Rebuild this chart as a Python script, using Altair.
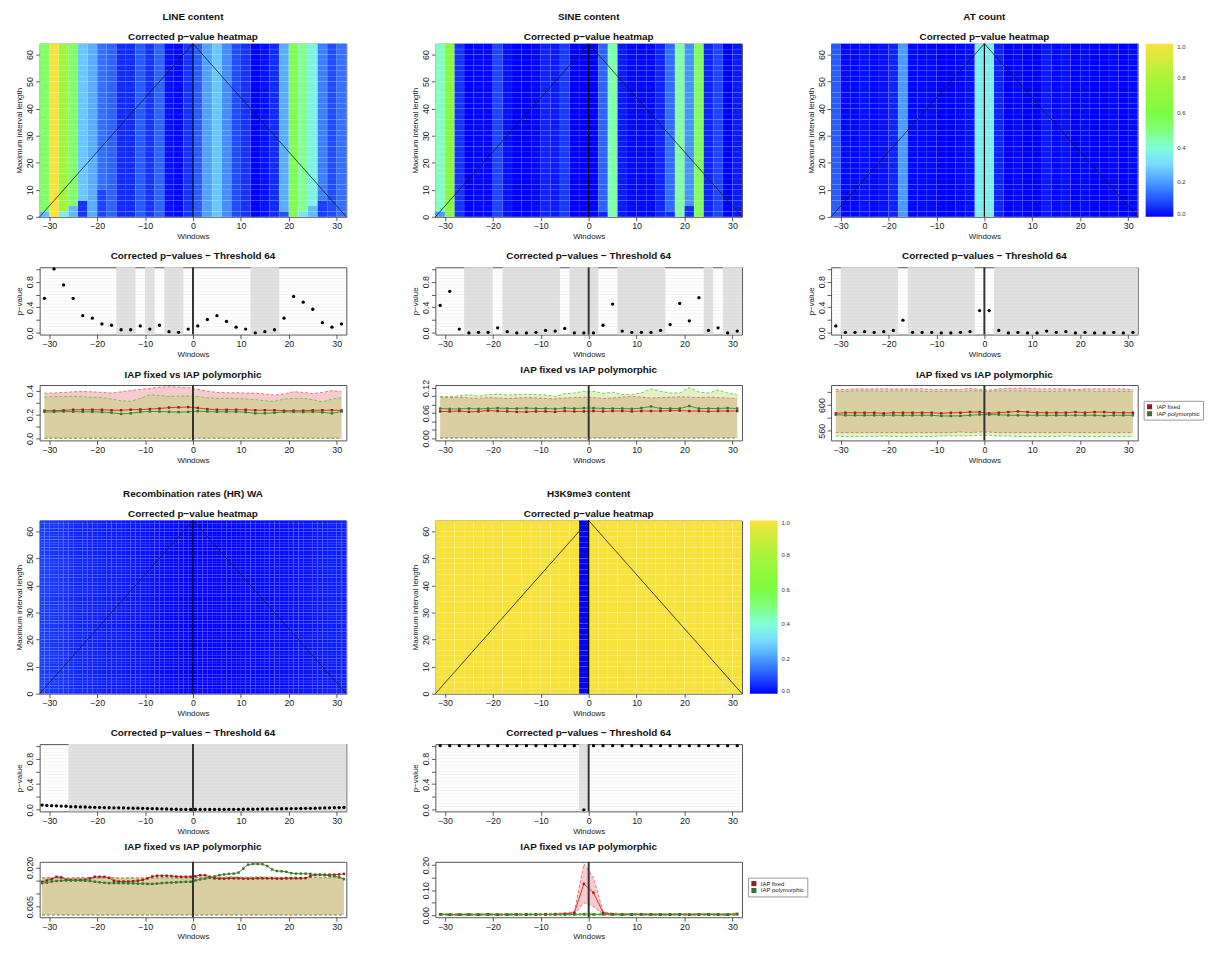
import altair as alt
import pandas as pd

alt.data_transformers.disable_max_rows()
FONT = "Liberation Sans"

# ---------------- windows ----------------
WIN = list(range(-31, 32, 2))                  # 32 windows, width 2
WIN_REC = [w / 2 for w in range(-63, 64, 2)]   # 64 windows, width 1
TRI_X = [-32, 0, 32]
TRI_Y = [0, 64, 0]
SERIES = ["IAP fixed", "IAP polymorphic"]

# ---------------- LINE content ----------------
LINE_P = [0.54, 1.0, 0.75, 0.54, 0.27, 0.23, 0.14, 0.12, 0.05, 0.05, 0.11, 0.06, 0.12, 0.02, 0.01, 0.06,
          0.11, 0.21, 0.27, 0.18, 0.09, 0.06, 0.0, 0.02, 0.05, 0.23, 0.57, 0.48, 0.37, 0.16, 0.09, 0.14]
LINE_SH0 = [-16, -10, -6, 12]
LINE_SH1 = [-12, -8, -2, 18]
LINE_OV_W = [-31, -27, -25, -23, -19, 19, 23, 25, 27]
LINE_OV_TOP = [2, 2, 4, 6, 10, 2, 2, 4, 6]
LINE_OV_VAL = [0.25, 0.35, 0.25, 0.06, 0.08, 0.1, 0.32, 0.25, 0.07]
LINE_FM = [0.232, 0.232, 0.235, 0.240, 0.240, 0.240, 0.240, 0.236, 0.236, 0.240, 0.242, 0.245, 0.250, 0.258, 0.260, 0.262,
           0.255, 0.245, 0.240, 0.240, 0.240, 0.240, 0.236, 0.236, 0.236, 0.232, 0.232, 0.232, 0.235, 0.236, 0.236, 0.234]
LINE_PM = [0.222, 0.222, 0.225, 0.224, 0.222, 0.222, 0.220, 0.215, 0.205, 0.210, 0.222, 0.225, 0.225, 0.222, 0.220, 0.222,
           0.228, 0.225, 0.222, 0.222, 0.222, 0.220, 0.210, 0.210, 0.215, 0.222, 0.222, 0.220, 0.222, 0.218, 0.210, 0.225]
LINE_FH = [0.378, 0.380, 0.385, 0.390, 0.392, 0.390, 0.385, 0.380, 0.390, 0.400, 0.410, 0.420, 0.428, 0.432, 0.430, 0.425,
           0.410, 0.395, 0.385, 0.382, 0.382, 0.380, 0.378, 0.372, 0.362, 0.372, 0.390, 0.385, 0.375, 0.385, 0.400, 0.390]
LINE_PH = [0.345, 0.350, 0.352, 0.352, 0.348, 0.345, 0.340, 0.330, 0.315, 0.310, 0.335, 0.365, 0.360, 0.350, 0.355, 0.355,
           0.350, 0.340, 0.335, 0.335, 0.335, 0.330, 0.325, 0.315, 0.310, 0.330, 0.335, 0.335, 0.325, 0.305, 0.330, 0.340]
LINE_FL = [0.002, 0.002, 0.002, 0.001, 0.002, 0.002, 0.002, 0.002, 0.001, 0.001, 0.002, 0.002, 0.002, 0.002, 0.002, 0.002,
           0.002, 0.002, 0.002, 0.002, 0.001, 0.001, 0.002, 0.002, 0.002, 0.002, 0.002, 0.002, 0.002, 0.001, 0.002, 0.002]
LINE_PL = [0.000, 0.001, 0.000, 0.000, 0.001, 0.000, 0.000, 0.000, 0.000, 0.001, 0.000, 0.000, 0.000, 0.000, 0.001, 0.000,
           0.000, 0.000, 0.001, 0.000, 0.000, 0.000, 0.000, 0.001, 0.000, 0.000, 0.000, 0.000, 0.001, 0.000, 0.000, 0.000]

# ---------------- SINE content ----------------
SINE_P = [0.43, 0.65, 0.06, 0.0, 0.01, 0.01, 0.08, 0.02, 0.0, 0.0, 0.01, 0.04, 0.03, 0.07, 0.0, 0.0,
          0.0, 0.12, 0.45, 0.03, 0.01, 0.01, 0.01, 0.04, 0.13, 0.46, 0.19, 0.55, 0.04, 0.08, 0.0, 0.03]
SINE_SH0 = [-26, -18, -4, 6, 24, 28]
SINE_SH1 = [-20, -6, 2, 16, 26, 32]
SINE_OV_W = [-31, 3, 17, 21]
SINE_OV_TOP = [2, 2, 2, 4]
SINE_OV_VAL = [0.2, 0.04, 0.05, 0.05]
SINE_FM = [0.064, 0.064, 0.065, 0.063, 0.064, 0.066, 0.065, 0.064, 0.063, 0.063, 0.064, 0.064, 0.063, 0.065, 0.064, 0.064,
           0.065, 0.064, 0.065, 0.065, 0.064, 0.065, 0.065, 0.065, 0.066, 0.066, 0.065, 0.065, 0.064, 0.065, 0.065, 0.065]
SINE_PM = [0.071, 0.070, 0.070, 0.071, 0.070, 0.071, 0.072, 0.071, 0.071, 0.072, 0.071, 0.071, 0.070, 0.072, 0.071, 0.072,
           0.072, 0.071, 0.071, 0.071, 0.070, 0.072, 0.076, 0.071, 0.071, 0.071, 0.077, 0.071, 0.071, 0.071, 0.072, 0.071]
SINE_FH = [0.098, 0.097, 0.098, 0.096, 0.095, 0.097, 0.096, 0.095, 0.096, 0.097, 0.096, 0.095, 0.094, 0.096, 0.097, 0.098,
           0.097, 0.095, 0.096, 0.098, 0.100, 0.098, 0.096, 0.097, 0.098, 0.099, 0.098, 0.097, 0.098, 0.097, 0.096, 0.095]
SINE_PH = [0.100, 0.099, 0.101, 0.104, 0.100, 0.104, 0.105, 0.103, 0.104, 0.105, 0.104, 0.103, 0.100, 0.106, 0.108, 0.112,
           0.112, 0.107, 0.110, 0.104, 0.105, 0.108, 0.118, 0.112, 0.108, 0.108, 0.121, 0.110, 0.108, 0.115, 0.108, 0.103]
SINE_FL = [0.001, 0.001, 0.001, 0.001, 0.001, 0.001, 0.001, 0.001, 0.001, 0.001, 0.001, 0.001, 0.001, 0.001, 0.001, 0.001,
           0.001, 0.001, 0.001, 0.001, 0.001, 0.001, 0.001, 0.001, 0.001, 0.001, 0.001, 0.001, 0.001, 0.001, 0.001, 0.001]
SINE_PL = [0.0005, 0.0005, 0.0005, 0.0005, 0.0005, 0.0005, 0.0005, 0.0005, 0.0005, 0.0005, 0.0005, 0.0005, 0.0005, 0.0005, 0.0005, 0.0005,
           0.0005, 0.0005, 0.0005, 0.0005, 0.0005, 0.0005, 0.0005, 0.0005, 0.0005, 0.0005, 0.0005, 0.0005, 0.0005, 0.0005, 0.0005, 0.0005]

# ---------------- AT count ----------------
AT_P = [0.11, 0.01, 0.01, 0.02, 0.01, 0.02, 0.04, 0.2, 0.01, 0.01, 0.01, 0.0, 0.0, 0.01, 0.02, 0.35,
        0.35, 0.04, 0.0, 0.01, 0.0, 0.0, 0.03, 0.01, 0.02, 0.0, 0.01, 0.0, 0.0, 0.01, 0.0, 0.01]
AT_SH0 = [-30, -16, 2]
AT_SH1 = [-18, -2, 32]
AT_FM = [587, 588, 588, 588, 588, 587, 588, 588, 588, 588, 588, 587, 588, 588, 589, 589,
         587, 588, 589, 590, 589, 588, 588, 588, 588, 589, 588, 589, 589, 588, 588, 588]
AT_PM = [585, 584, 584, 584, 584, 584, 584, 584, 584, 584, 584, 583, 583, 583, 584, 585,
         585, 585, 584, 584, 584, 584, 584, 584, 584, 584, 584, 584, 583, 584, 584, 584]
AT_FH = [624, 624, 625, 625, 625, 625, 625, 625, 625, 625, 624, 624, 624, 624, 626, 624,
         623, 625, 626, 626, 626, 625, 625, 625, 625, 624, 625, 625, 625, 625, 625, 624]
AT_PH = [621, 621, 622, 622, 622, 621, 622, 622, 622, 621, 621, 621, 622, 621, 622, 622,
         621, 622, 622, 622, 622, 621, 621, 621, 622, 622, 622, 621, 621, 621, 621, 621]
AT_FL = [557, 557, 557, 557, 557, 557, 557, 557, 557, 557, 557, 557, 557, 558, 557, 558,
         558, 557, 557, 557, 557, 557, 557, 557, 557, 557, 557, 557, 557, 557, 557, 557]
AT_PL = [552, 551, 551, 551, 551, 552, 551, 551, 551, 551, 551, 552, 552, 552, 552, 553,
         553, 552, 552, 551, 551, 551, 551, 551, 552, 551, 551, 551, 551, 551, 551, 551]

# ---------------- Recombination rates (HR) WA ----------------
REC_P = [0.073, 0.068, 0.064, 0.061, 0.058, 0.055, 0.049, 0.047, 0.045, 0.043, 0.040, 0.038, 0.036, 0.034, 0.032, 0.031,
         0.030, 0.028, 0.027, 0.025, 0.024, 0.022, 0.020, 0.018, 0.016, 0.014, 0.012, 0.010, 0.008, 0.006, 0.005, 0.004,
         0.004, 0.004, 0.004, 0.005, 0.005, 0.005, 0.006, 0.006, 0.007, 0.007, 0.008, 0.009, 0.010, 0.011, 0.012, 0.013,
         0.014, 0.015, 0.016, 0.017, 0.018, 0.019, 0.020, 0.022, 0.023, 0.025, 0.027, 0.028, 0.030, 0.032, 0.034, 0.036]
REC_SH0 = [-26]
REC_SH1 = [32]
REC_FM = [0.0145, 0.0150, 0.0155, 0.0164, 0.0162, 0.0153, 0.0152, 0.0152, 0.0152, 0.0153, 0.0158, 0.0164, 0.0164, 0.0164, 0.0160, 0.0149,
          0.0146, 0.0146, 0.0146, 0.0147, 0.0149, 0.0152, 0.0158, 0.0165, 0.0168, 0.0168, 0.0168, 0.0167, 0.0165, 0.0164, 0.0164, 0.0164,
          0.0166, 0.0170, 0.0170, 0.0164, 0.0158, 0.0157, 0.0157, 0.0158, 0.0158, 0.0158, 0.0157, 0.0157, 0.0157, 0.0158, 0.0158, 0.0158,
          0.0158, 0.0157, 0.0157, 0.0158, 0.0158, 0.0158, 0.0158, 0.0159, 0.0166, 0.0171, 0.0172, 0.0172, 0.0172, 0.0172, 0.0173, 0.0175]
REC_PM = [0.0140, 0.0142, 0.0146, 0.0148, 0.0149, 0.0150, 0.0150, 0.0150, 0.0150, 0.0149, 0.0148, 0.0145, 0.0143, 0.0141, 0.0140, 0.0140,
          0.0140, 0.0140, 0.0139, 0.0139, 0.0138, 0.0138, 0.0137, 0.0137, 0.0138, 0.0140, 0.0141, 0.0142, 0.0143, 0.0144, 0.0145, 0.0145,
          0.0150, 0.0154, 0.0157, 0.0160, 0.0165, 0.0170, 0.0173, 0.0175, 0.0176, 0.0180, 0.0195, 0.0210, 0.0213, 0.0213, 0.0212, 0.0205,
          0.0192, 0.0186, 0.0185, 0.0183, 0.0178, 0.0176, 0.0176, 0.0176, 0.0175, 0.0172, 0.0172, 0.0170, 0.0168, 0.0167, 0.0162, 0.0155]
REC_FH = [0.0160, 0.0161, 0.0161, 0.0162, 0.0161, 0.0160, 0.0160, 0.0161, 0.0161, 0.0161, 0.0160, 0.0160, 0.0161, 0.0162, 0.0162, 0.0161,
          0.0160, 0.0160, 0.0161, 0.0161, 0.0160, 0.0160, 0.0160, 0.0161, 0.0161, 0.0162, 0.0162, 0.0161, 0.0161, 0.0160, 0.0160, 0.0161,
          0.0161, 0.0162, 0.0162, 0.0161, 0.0160, 0.0160, 0.0160, 0.0161, 0.0161, 0.0161, 0.0160, 0.0160, 0.0160, 0.0161, 0.0161, 0.0161,
          0.0160, 0.0160, 0.0160, 0.0161, 0.0161, 0.0161, 0.0160, 0.0160, 0.0161, 0.0161, 0.0161, 0.0160, 0.0160, 0.0161, 0.0161, 0.0160]
REC_PH = [0.0157, 0.0158, 0.0158, 0.0159, 0.0158, 0.0157, 0.0157, 0.0158, 0.0158, 0.0158, 0.0157, 0.0157, 0.0158, 0.0159, 0.0159, 0.0158,
          0.0157, 0.0157, 0.0158, 0.0158, 0.0157, 0.0157, 0.0157, 0.0158, 0.0158, 0.0159, 0.0159, 0.0158, 0.0158, 0.0157, 0.0157, 0.0158,
          0.0160, 0.0162, 0.0163, 0.0163, 0.0162, 0.0162, 0.0163, 0.0164, 0.0164, 0.0164, 0.0163, 0.0163, 0.0163, 0.0164, 0.0164, 0.0163,
          0.0163, 0.0162, 0.0162, 0.0163, 0.0163, 0.0163, 0.0162, 0.0162, 0.0163, 0.0163, 0.0163, 0.0162, 0.0162, 0.0163, 0.0162, 0.0160]
REC_FL = [0.0018, 0.0018, 0.0018, 0.0018, 0.0018, 0.0018, 0.0018, 0.0018, 0.0018, 0.0018, 0.0018, 0.0018, 0.0018, 0.0018, 0.0018, 0.0018,
          0.0018, 0.0018, 0.0018, 0.0018, 0.0018, 0.0018, 0.0018, 0.0018, 0.0018, 0.0018, 0.0018, 0.0018, 0.0018, 0.0018, 0.0018, 0.0018,
          0.0018, 0.0018, 0.0018, 0.0018, 0.0018, 0.0018, 0.0018, 0.0018, 0.0018, 0.0018, 0.0018, 0.0018, 0.0018, 0.0018, 0.0018, 0.0018,
          0.0018, 0.0018, 0.0018, 0.0018, 0.0018, 0.0018, 0.0018, 0.0018, 0.0018, 0.0018, 0.0018, 0.0018, 0.0018, 0.0018, 0.0018, 0.0018]
REC_PL = [0.0019, 0.0019, 0.0019, 0.0019, 0.0019, 0.0019, 0.0019, 0.0019, 0.0019, 0.0019, 0.0019, 0.0019, 0.0019, 0.0019, 0.0019, 0.0019,
          0.0019, 0.0019, 0.0019, 0.0019, 0.0019, 0.0019, 0.0019, 0.0019, 0.0019, 0.0019, 0.0019, 0.0019, 0.0019, 0.0019, 0.0019, 0.0019,
          0.0019, 0.0019, 0.0019, 0.0019, 0.0019, 0.0019, 0.0019, 0.0019, 0.0019, 0.0019, 0.0019, 0.0019, 0.0019, 0.0019, 0.0019, 0.0019,
          0.0019, 0.0019, 0.0019, 0.0019, 0.0019, 0.0019, 0.0019, 0.0019, 0.0019, 0.0019, 0.0019, 0.0019, 0.0019, 0.0019, 0.0019, 0.0019]

# ---------------- H3K9me3 content ----------------
H3K_P = [1.0, 1.0, 1.0, 1.0, 1.0, 1.0, 1.0, 1.0, 1.0, 1.0, 1.0, 1.0, 1.0, 1.0, 1.0, 0.0,
         1.0, 1.0, 1.0, 1.0, 1.0, 1.0, 1.0, 1.0, 1.0, 1.0, 1.0, 1.0, 1.0, 1.0, 1.0, 1.0]
H3K_SH0 = [-2]
H3K_SH1 = [0]
H3K_FM = [0.004, 0.002, 0.002, 0.002, 0.002, 0.003, 0.002, 0.002, 0.003, 0.003, 0.003, 0.003, 0.004, 0.005, 0.010, 0.125,
          0.090, 0.010, 0.004, 0.003, 0.003, 0.003, 0.003, 0.002, 0.002, 0.003, 0.002, 0.003, 0.003, 0.002, 0.002, 0.005]
H3K_FH = [0.007, 0.006, 0.006, 0.006, 0.006, 0.007, 0.006, 0.006, 0.007, 0.007, 0.007, 0.007, 0.008, 0.009, 0.014, 0.205,
          0.150, 0.014, 0.008, 0.007, 0.007, 0.007, 0.007, 0.006, 0.006, 0.007, 0.006, 0.007, 0.007, 0.006, 0.006, 0.009]
H3K_FL = [0.000, 0.000, 0.000, 0.000, 0.000, 0.000, 0.000, 0.000, 0.000, 0.000, 0.000, 0.000, 0.000, 0.001, 0.004, 0.050,
          0.035, 0.004, 0.001, 0.000, 0.000, 0.000, 0.000, 0.000, 0.000, 0.000, 0.000, 0.000, 0.000, 0.000, 0.000, 0.000]
H3K_PM = [0.003, 0.002, 0.002, 0.003, 0.002, 0.003, 0.002, 0.003, 0.003, 0.002, 0.003, 0.003, 0.003, 0.003, 0.003, 0.004,
          0.003, 0.003, 0.003, 0.002, 0.003, 0.003, 0.002, 0.003, 0.003, 0.003, 0.002, 0.003, 0.003, 0.003, 0.002, 0.004]
H3K_PH = [0.007, 0.006, 0.006, 0.007, 0.006, 0.007, 0.006, 0.007, 0.007, 0.006, 0.007, 0.007, 0.007, 0.007, 0.007, 0.008,
          0.007, 0.007, 0.007, 0.006, 0.007, 0.007, 0.006, 0.007, 0.007, 0.007, 0.006, 0.007, 0.007, 0.007, 0.006, 0.008]
H3K_PL = [0.000, 0.000, 0.000, 0.000, 0.000, 0.000, 0.000, 0.000, 0.000, 0.000, 0.000, 0.000, 0.000, 0.000, 0.000, 0.000,
          0.000, 0.000, 0.000, 0.000, 0.000, 0.000, 0.000, 0.000, 0.000, 0.000, 0.000, 0.000, 0.000, 0.000, 0.000, 0.000]

# ---------------- styles ----------------
HEAT_STOPS = [0.0, 0.1, 0.2, 0.3, 0.4, 0.5, 0.6, 0.8, 1.0]
HEAT_COLORS = ["#0000FF", "#2255FF", "#4A9BFF", "#78D8FF", "#80FFD8", "#82FF80", "#7CFC40", "#A8F53A", "#F7E23A"]
HW, HH, SH, LH = 310, 175, 68, 56
MINUS = "\u2212"

X_AX = dict(values=[-30, -20, -10, 0, 10, 20, 30], format="d", labelFlush=False)
Y_AX = dict(labelAngle=270, labelAlign="center", labelBaseline="bottom", labelOverlap=False)


def xs():
    return alt.Scale(domain=[-32, 32], nice=False, zero=False)


def X(field):
    return alt.X(f"{field}:Q", scale=xs(), axis=alt.Axis(**X_AX), title="Windows")


def lab_expr(vals, labs):
    s = "''"
    for v, l in reversed(list(zip(vals, labs))):
        s = f"abs(datum.value - {v}) < 1e-9 ? '{l}' : {s}"
    return s


def heat_frame(wins, width, pvals, row_h, ov_w, ov_top, ov_val):
    rows = []
    for w, p in zip(wins, pvals):
        for r0 in range(0, 64, row_h):
            v = p
            for a, t, b in zip(ov_w, ov_top, ov_val):
                if a == w and r0 < t:
                    v = b
            rows.append({"x": w - width / 2, "x2": w + width / 2, "y": r0, "y2": r0 + row_h, "p": v})
    return pd.DataFrame(rows)


def heatmap(name, df, show_legend, grid_op):
    ysc = alt.Scale(domain=[0, 64], nice=False, zero=False)
    yax = alt.Axis(values=[0, 10, 20, 30, 40, 50, 60], **Y_AX)

    def Y(f):
        return alt.Y(f"{f}:Q", scale=ysc, axis=yax, title="Maximum interval length")

    legend = None
    if show_legend:
        legend = alt.Legend(orient="none", legendX=HW + 8, legendY=0, direction="vertical",
                            gradientLength=HH, gradientThickness=28, title=None,
                            values=[0, 0.2, 0.4, 0.6, 0.8, 1.0], format=".1f",
                            labelFont=FONT, labelFontSize=6, labelColor="#333", labelOffset=4,
                            gradientStrokeWidth=0)
    cells = alt.Chart(df).mark_rect(stroke="white", strokeWidth=0.4, strokeOpacity=grid_op).encode(
        x=X("x"), x2="x2", y=Y("y"), y2="y2",
        color=alt.Color("p:Q", scale=alt.Scale(domain=HEAT_STOPS, range=HEAT_COLORS, interpolate="rgb"),
                        legend=legend),
    )
    tri = alt.Chart(pd.DataFrame({"x": TRI_X, "y": TRI_Y})).mark_line(
        color="#1a1a1a", strokeWidth=0.8).encode(x=X("x"), y=Y("y"))
    vline = alt.Chart(pd.DataFrame({"x": [0]})).mark_rule(color="black", strokeWidth=1.2).encode(x=X("x"))
    return alt.layer(cells, tri, vline).properties(
        width=HW, height=HH,
        title=alt.TitleParams(text=name, subtitle=f"Corrected p{MINUS}value heatmap", fontSize=10,
                              subtitleFontSize=10, subtitleFontWeight="bold", subtitleFont=FONT,
                              subtitleColor="#111", subtitlePadding=10, offset=0, anchor="middle",
                              frame="group"),
    )


def scatter(wins, pvals, s0, s1):
    lo, hi = -0.025, 1.025
    ysc = alt.Scale(domain=[lo, hi], nice=False, zero=False)
    yax = alt.Axis(values=[0, 0.2, 0.4, 0.6, 0.8, 1.0],
                   labelExpr=lab_expr([0, 0.4, 0.8], ["0.0", "0.4", "0.8"]), **Y_AX)

    def Y(f):
        return alt.Y(f"{f}:Q", scale=ysc, axis=yax, title=f"p{MINUS}value")

    shade_df = pd.DataFrame({"x": s0, "x2": s1, "y": [lo] * len(s0), "y2": [hi] * len(s0)})
    shade = alt.Chart(shade_df).mark_rect(color="#E1E1E1").encode(
        x=X("x"), x2="x2", y=Y("y"), y2="y2")
    grid_levels = [round(0.05 * i, 2) for i in range(21)]
    grid = alt.Chart(pd.DataFrame({"g": grid_levels})).mark_rule(
        color="#C8C8C8", strokeWidth=0.5, opacity=0.45).encode(y=Y("g"))
    pts = alt.Chart(pd.DataFrame({"w": wins, "p": pvals})).mark_circle(
        size=11, color="black", opacity=1).encode(x=X("w"), y=Y("p"))
    vline = alt.Chart(pd.DataFrame({"x": [0]})).mark_rule(color="#333", strokeWidth=2).encode(x=X("x"))
    return alt.layer(shade, grid, pts, vline).properties(
        width=HW, height=SH,
        title=alt.TitleParams(f"Corrected p{MINUS}values {MINUS} Threshold 64", fontSize=10, offset=5,
                              anchor="middle", frame="group"))


def linechart(wins, fm, fl, fh, pm, pl, ph, ydom, yvals, lvals, labs, show_legend):
    df = pd.DataFrame({"w": wins, "fm": fm, "fl": fl, "fh": fh, "pm": pm, "pl": pl, "ph": ph})
    ysc = alt.Scale(domain=ydom, nice=False, zero=False)
    yax = alt.Axis(values=yvals, labelExpr=lab_expr(lvals, labs), **Y_AX)

    def Y(f):
        return alt.Y(f"{f}:Q", scale=ysc, axis=yax, title=None)

    base = alt.Chart(df)
    band_f = base.mark_area(color="#E65064", opacity=0.3).encode(x=X("w"), y=Y("fl"), y2="fh")
    band_p = base.mark_area(color="#96DC3C", opacity=0.3).encode(x=X("w"), y=Y("pl"), y2="ph")
    dash = []
    for f, c in [("fh", "#E06A6A"), ("fl", "#E06A6A"), ("ph", "#6CBF55"), ("pl", "#6CBF55")]:
        dash.append(base.mark_line(color=c, strokeDash=[3, 2], strokeWidth=0.9).encode(x=X("w"), y=Y(f)))
    mline_f = base.mark_line(color="#E2341F", strokeWidth=1).encode(x=X("w"), y=Y("fm"))
    mline_p = base.mark_line(color="#35A02C", strokeWidth=1).encode(x=X("w"), y=Y("pm"))
    long = pd.DataFrame({
        "w": list(wins) + list(wins),
        "v": list(fm) + list(pm),
        "s": [SERIES[0]] * len(wins) + [SERIES[1]] * len(wins),
    })
    legend = None
    if show_legend:
        legend = alt.Legend(orient="none", legendX=HW + 6, legendY=16, title=None, symbolType="square",
                            symbolSize=26, symbolStrokeWidth=0, labelFont=FONT, labelFontSize=6,
                            labelColor="#222", strokeColor="#999", fillColor="white", padding=3,
                            rowPadding=1, labelOffset=4, labelLimit=120)
    pts = alt.Chart(long).mark_square(size=6, opacity=1).encode(
        x=X("w"), y=Y("v"),
        color=alt.Color("s:N", scale=alt.Scale(domain=SERIES, range=["#8E1A2C", "#3F6E30"]), legend=legend))
    vline = alt.Chart(pd.DataFrame({"x": [0]})).mark_rule(color="#333", strokeWidth=2).encode(x=X("x"))
    return alt.layer(band_f, band_p, *dash, mline_f, mline_p, pts, vline).properties(
        width=HW, height=LH,
        title=alt.TitleParams("IAP fixed vs IAP polymorphic", fontSize=10, offset=4, anchor="middle",
                              frame="group"))


def column(heat, sc, ln):
    return alt.vconcat(heat, sc, ln, spacing=51, bounds="flush").resolve_scale(color="independent")


col_line = column(
    heatmap("LINE content", heat_frame(WIN, 2, LINE_P, 2, LINE_OV_W, LINE_OV_TOP, LINE_OV_VAL), False, 0.15),
    scatter(WIN, LINE_P, LINE_SH0, LINE_SH1),
    linechart(WIN, LINE_FM, LINE_FL, LINE_FH, LINE_PM, LINE_PL, LINE_PH, [-0.017, 0.447],
              [0, 0.1, 0.2, 0.3, 0.4], [0, 0.2, 0.4], ["0.0", "0.2", "0.4"], False))
col_sine = column(
    heatmap("SINE content", heat_frame(WIN, 2, SINE_P, 2, SINE_OV_W, SINE_OV_TOP, SINE_OV_VAL), False, 0.15),
    scatter(WIN, SINE_P, SINE_SH0, SINE_SH1),
    linechart(WIN, SINE_FM, SINE_FL, SINE_FH, SINE_PM, SINE_PL, SINE_PH, [-0.005, 0.127],
              [0, 0.02, 0.04, 0.06, 0.08, 0.1, 0.12], [0, 0.06, 0.12], ["0.00", "0.06", "0.12"], False))
col_at = column(
    heatmap("AT count", heat_frame(WIN, 2, AT_P, 2, [], [], []), True, 0.15),
    scatter(WIN, AT_P, AT_SH0, AT_SH1),
    linechart(WIN, AT_FM, AT_FL, AT_FH, AT_PM, AT_PL, AT_PH, [545, 631],
              [560, 580, 600, 620], [560, 600], ["560", "600"], True))
col_rec = column(
    heatmap("Recombination rates (HR) WA", heat_frame(WIN_REC, 1, REC_P, 1, [], [], []), False, 0.08),
    scatter(WIN_REC, REC_P, REC_SH0, REC_SH1),
    linechart(WIN_REC, REC_FM, REC_FL, REC_FH, REC_PM, REC_PL, REC_PH, [0.001, 0.0221],
              [0.005, 0.01, 0.015, 0.02], [0.005, 0.02], ["0.005", "0.020"], False))
col_h3k = column(
    heatmap("H3K9me3 content", heat_frame(WIN, 2, H3K_P, 2, [], [], []), True, 0.15),
    scatter(WIN, H3K_P, H3K_SH0, H3K_SH1),
    linechart(WIN, H3K_FM, H3K_FL, H3K_FH, H3K_PM, H3K_PL, H3K_PH, [-0.008, 0.213],
              [0, 0.05, 0.1, 0.15, 0.2], [0, 0.1, 0.2], ["0.00", "0.10", "0.20"], True))

row1 = alt.hconcat(col_line, col_sine, col_at, spacing=62).resolve_scale(color="independent")
row2 = alt.hconcat(col_rec, col_h3k, spacing=62).resolve_scale(color="independent")

chart = alt.vconcat(row1, row2, spacing=23).resolve_scale(color="independent").properties(
    padding={"left": 7, "top": -2, "right": 0, "bottom": 0}
).configure(font=FONT).configure_view(
    stroke="#555", strokeWidth=1
).configure_axis(
    domain=False, grid=False, tickColor="#333", tickSize=4, tickWidth=0.8,
    labelFont=FONT, labelFontSize=9, labelColor="#222", labelPadding=1,
    titleFont=FONT, titleFontSize=8, titleFontWeight="normal", titleColor="#222", titlePadding=2,
).configure_title(
    font=FONT, fontSize=10, fontWeight="bold", color="#111"
)

chart.save("out.html", embed_options={"renderer": "svg", "actions": False})
